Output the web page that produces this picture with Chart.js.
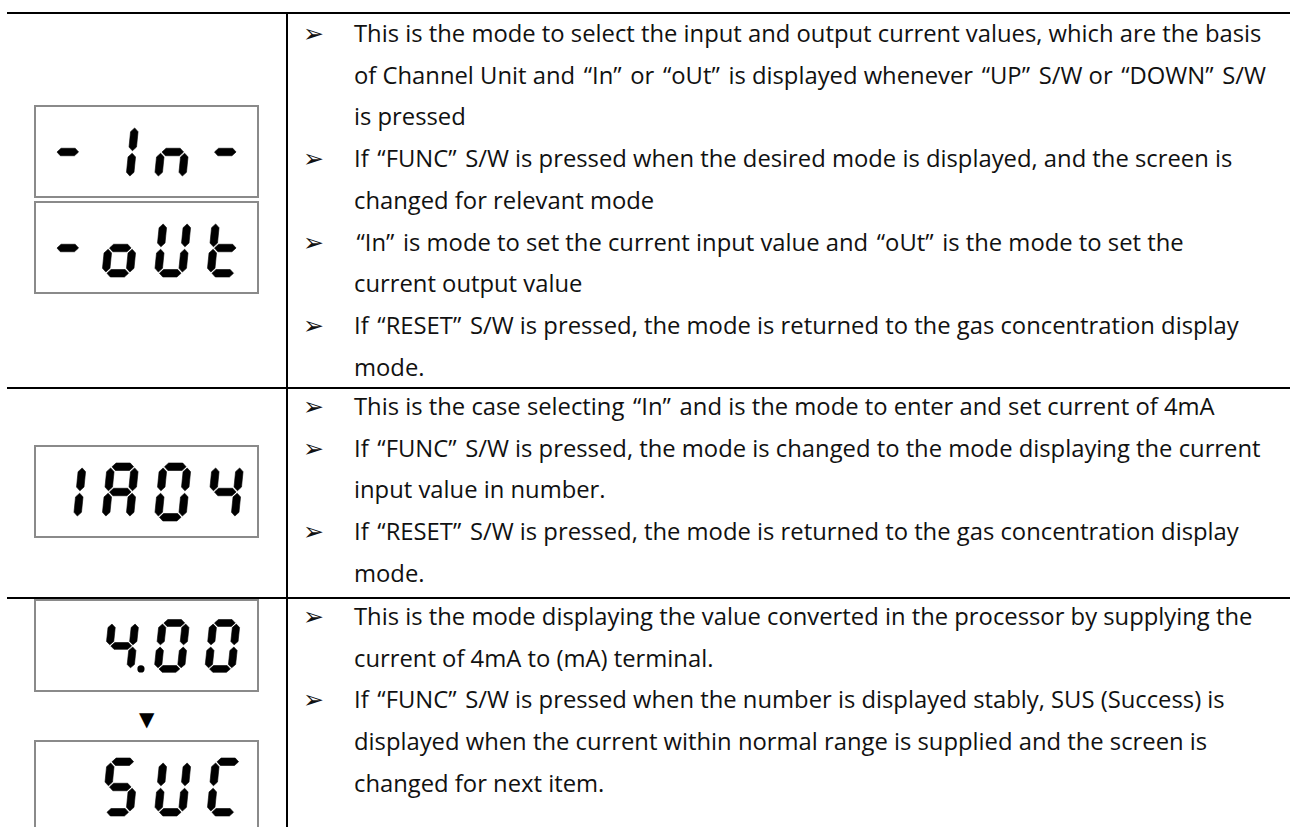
<!DOCTYPE html>
<html>
<head>
<meta charset="utf-8">
<script src="https://cdn.jsdelivr.net/npm/chart.js@4.4.0/dist/chart.umd.min.js"></script>
<style>
  html, body { margin: 0; padding: 0; background: #fff; }
  body { width: 1290px; height: 827px; overflow: hidden; position: relative; }
  .rule { position: absolute; background: #000; }
  .lcd { position: absolute; left: 34px; width: 221px; height: 89px; border: 2px solid #8a8a8a; background: #fff; }
  .lcd canvas { display: block; }
  .tri { position: absolute; left: 139px; top: 704px; font-family: "DejaVu Sans"; font-size: 20px; line-height: 30px; }
  .notes { position: absolute; left: 303px; font-family: "Open Sans", sans-serif; font-size: 21px; line-height: 41.7px; color: #111; white-space: nowrap; }
  .note { position: relative; padding-left: 51px; }
  .note .arw { position: absolute; left: 0; top: 0; font-family: "DejaVu Sans"; font-size: 25px; }
  .ql { margin-left: 2.5px; }
  .qr { margin-right: 2.5px; }
</style>
</head>
<body>

<div class="rule" style="left:7px;top:12px;width:1283px;height:2px"></div>
<div class="rule" style="left:7px;top:387px;width:1283px;height:2px"></div>
<div class="rule" style="left:7px;top:597px;width:1283px;height:2px"></div>
<div class="rule" style="left:286px;top:12px;width:2px;height:815px"></div>

<div id="lcds"></div>
<div class="tri">▼</div>

<div class="notes" id="row1" style="top:13px"></div>
<div class="notes" id="row2" style="top:386px"></div>
<div class="notes" id="row3" style="top:596px"></div>

<script>
// ---- data ----
const displayTexts = ["-In-", "-oUt", "1A04", " 4.00", " SUC"];
const displayTops = [105, 201, 445, 599, 740];

// which segments light up for each character
const glyphs = {
  " ": "", "-": "g", "I": "bc", "1": "bc", "n": "ceg", "o": "cdeg", "U": "bcdef",
  "t": "defg", "A": "abcefg", "0": "abcdef", "4": "bcfg", "S": "acdfg", "C": "adef"
};

// segment ends in a unit cell (x 0..1, y 0..2, y up)
const segEnds = {
  a: [[0, 2], [1, 2]], b: [[1, 2], [1, 1]], c: [[1, 1], [1, 0]], d: [[0, 0], [1, 0]],
  e: [[0, 0], [0, 1]], f: [[0, 1], [0, 2]], g: [[0, 1], [1, 1]]
};

const row1Notes = [
  ["This is the mode to select the input and output current values, which are the basis",
   "of Channel Unit and “In” or “oUt” is displayed whenever “UP” S/W or “DOWN” S/W",
   "is pressed"],
  ["If “FUNC” S/W is pressed when the desired mode is displayed, and the screen is",
   "changed for relevant mode"],
  ["“In” is mode to set the current input value and “oUt” is the mode to set the",
   "current output value"],
  ["If “RESET” S/W is pressed, the mode is returned to the gas concentration display",
   "mode."]
];
const row2Notes = [
  ["This is the case selecting “In” and is the mode to enter and set current of 4mA"],
  ["If “FUNC” S/W is pressed, the mode is changed to the mode displaying the current",
   "input value in number."],
  ["If “RESET” S/W is pressed, the mode is returned to the gas concentration display",
   "mode."]
];
const row3Notes = [
  ["This is the mode displaying the value converted in the processor by supplying the",
   "current of 4mA to (mA) terminal."],
  ["If “FUNC” S/W is pressed when the number is displayed stably, SUS (Success) is",
   "displayed when the current within normal range is supplied and the screen is",
   "changed for next item."]
];

// ---- seven segment boxes ----
const BOX_W = 221, BOX_H = 89;
const CELL_X0 = 17.25, CELL_PITCH = 52.5, CELL_W = 24, CELL_Y0 = 18.75, HALF_H = 25.25;
const SLANT = 0.1, THICK = 7.5, GAP = 1.2;

function toBox(cell, u, v) {
  const x = CELL_X0 + cell * CELL_PITCH + u * CELL_W;
  const y = CELL_Y0 + v * HALF_H;
  return [x, y];
}

function segmentShape(cell, name) {
  const [p, q] = segEnds[name];
  let [x1, y1] = toBox(cell, p[0], p[1]);
  let [x2, y2] = toBox(cell, q[0], q[1]);
  const h = THICK / 2;
  let pts;
  if (y1 === y2) {
    if (x1 > x2) [x1, x2] = [x2, x1];
    x1 += GAP; x2 -= GAP;
    pts = [[x1, y1], [x1 + h, y1 + h], [x2 - h, y1 + h], [x2, y1], [x2 - h, y1 - h], [x1 + h, y1 - h]];
  } else {
    if (y1 > y2) [y1, y2] = [y2, y1];
    y1 += GAP; y2 -= GAP;
    pts = [[x1, y1], [x1 + h, y1 + h], [x1 + h, y2 - h], [x1, y2], [x1 - h, y2 - h], [x1 - h, y1 + h]];
  }
  pts.push(pts[0]);
  return pts.map(([x, y]) => ({ x: x + SLANT * (y - CELL_Y0), y: y }));
}

function parseDisplay(text) {
  const cells = [];
  for (const ch of text) {
    if (ch === ".") { cells[cells.length - 1].dot = true; continue; }
    cells.push({ ch: ch, dot: false });
  }
  return cells;
}

const lcdHost = document.getElementById("lcds");
displayTexts.forEach((text, i) => {
  const box = document.createElement("div");
  box.className = "lcd";
  box.style.top = displayTops[i] + "px";
  const canvas = document.createElement("canvas");
  canvas.width = BOX_W;
  canvas.height = BOX_H;
  box.appendChild(canvas);
  lcdHost.appendChild(box);

  const datasets = [];
  parseDisplay(text).forEach((cell, k) => {
    for (const s of glyphs[cell.ch] || "") {
      datasets.push({
        data: segmentShape(k, s),
        showLine: true,
        fill: "shape",
        backgroundColor: "#000",
        borderColor: "#000",
        borderWidth: 0.6,
        pointRadius: 0
      });
    }
    if (cell.dot) {
      const [dx, dy] = toBox(k, 1, 0);
      datasets.push({
        data: [{ x: dx + 11, y: dy }],
        showLine: false,
        pointRadius: 3.6,
        pointStyle: "circle",
        backgroundColor: "#000",
        borderWidth: 0
      });
    }
  });

  new Chart(canvas.getContext("2d"), {
    type: "scatter",
    data: { datasets: datasets },
    options: {
      responsive: false,
      animation: false,
      events: [],
      layout: { padding: 0 },
      plugins: { legend: { display: false }, tooltip: { enabled: false } },
      elements: { line: { tension: 0 } },
      scales: {
        x: { type: "linear", min: 0, max: BOX_W, display: false },
        y: { type: "linear", min: 0, max: BOX_H, display: false }
      }
    }
  });
});

// ---- notes text ----
function quoteSpans(line) {
  return line.replace(/“/g, '<span class="ql">“</span>').replace(/”/g, '<span class="qr">”</span>');
}

function fillNotes(id, notes) {
  const host = document.getElementById(id);
  host.innerHTML = notes.map(lines => `
    <div class="note"><span class="arw">➢</span><span class="txt">${lines.map(quoteSpans).join("<br>")}</span></div>
  `).join("");
}

fillNotes("row1", row1Notes);
fillNotes("row2", row2Notes);
fillNotes("row3", row3Notes);

// fit the font so the first line spans 354..1262 like the reference
const probe = document.createElement("span");
probe.className = "notes";
probe.style.visibility = "hidden";
probe.innerHTML = quoteSpans(row1Notes[0][0]);
document.body.appendChild(probe);
const w = probe.getBoundingClientRect().width;
const size = 21 * 908 / w;
document.querySelectorAll(".notes").forEach(n => n.style.fontSize = size.toFixed(2) + "px");
probe.remove();
</script>
</body>
</html>
